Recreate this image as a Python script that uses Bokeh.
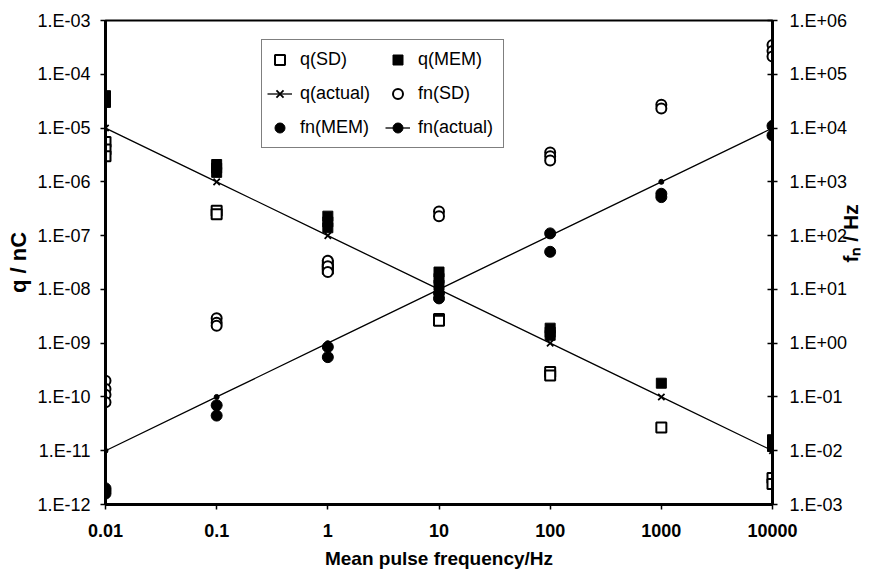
import math
from bokeh.plotting import figure
from bokeh.models import (Range1d, LogScale, LogAxis, FixedTicker, CustomJSTickFormatter, Legend)
from bokeh.embed import file_html
from bokeh.resources import INLINE

# ---- data ----
freq = [0.01, 0.1, 1, 10, 100, 1000, 10000]
freq_labels = ["0.01", "0.1", "1", "10", "100", "1000", "10000"]
q_actual = [1e-5, 1e-6, 1e-7, 1e-8, 1e-9, 1e-10, 1e-11]
fn_actual = [0.01, 0.1, 1, 10, 100, 1000, 10000]

q_sd_f = [0.01, 0.01, 0.01, 0.1, 0.1, 1, 1, 10, 10, 100, 100, 1000, 10000, 10000]
q_sd = [5.5e-6, 4.0e-6, 3.0e-6, 2.9e-7, 2.5e-7, 2.8e-8, 2.4e-8, 2.8e-9, 2.6e-9,
        2.9e-10, 2.5e-10, 2.7e-11, 3.1e-12, 2.4e-12]

q_mem_f = [0.01, 0.01, 0.01, 0.1, 0.1, 0.1, 1, 1, 1, 10, 10, 10, 100, 100, 100,
           1000, 10000, 10000, 10000]
q_mem = [4.0e-5, 3.4e-5, 3.0e-5, 2.1e-6, 1.8e-6, 1.5e-6, 2.3e-7, 1.8e-7, 1.4e-7,
         2.1e-8, 1.6e-8, 1.2e-8, 1.9e-9, 1.6e-9, 1.4e-9, 1.8e-10, 1.6e-11, 1.4e-11, 1.2e-11]

fn_sd_f = [0.01, 0.01, 0.01, 0.01, 0.1, 0.1, 0.1, 1, 1, 1, 10, 10, 100, 100, 100,
           1000, 1000, 10000, 10000, 10000]
fn_sd = [0.2, 0.14, 0.11, 0.08, 2.9, 2.4, 2.1, 34, 27, 21, 280, 230, 3500, 3000, 2500,
         27000, 23000, 350000, 270000, 215000]

fn_mem_f = [0.01, 0.01, 0.01, 0.1, 0.1, 1, 1, 10, 10, 100, 100, 1000, 1000, 10000, 10000]
fn_mem = [0.002, 0.0018, 0.0016, 0.07, 0.045, 0.85, 0.55, 8.5, 6.8, 110, 50, 600, 520,
          11000, 7300]

q_ticks = [1e-12, 1e-11, 1e-10, 1e-9, 1e-8, 1e-7, 1e-6, 1e-5, 1e-4, 1e-3]
fn_ticks = [1e-3, 1e-2, 1e-1, 1, 10, 100, 1e3, 1e4, 1e5, 1e6]

FONT = "Liberation Sans"

p = figure(width=877, height=577, x_axis_type="log", y_axis_type="log",
           x_range=Range1d(0.01, 10000), y_range=Range1d(1e-12, 1e-3),
           output_backend="svg", toolbar_location=None,
           min_border_left=105, min_border_right=105, min_border_top=20, min_border_bottom=73)
p.extra_y_ranges = {"fn": Range1d(1e-3, 1e6)}
p.extra_y_scales = {"fn": LogScale()}
p.xgrid.visible = False
p.ygrid.visible = False
p.outline_line_color = "black"
p.outline_line_width = 2
p.background_fill_color = "white"
p.border_fill_color = "white"

exp_fmt = """
const e = Math.round(Math.log10(tick));
const a = Math.abs(e);
return '1.E' + (e < 0 ? '-' : '+') + (a < 10 ? '0' : '') + a;
"""

xa = p.xaxis[0]
xa.ticker = FixedTicker(ticks=freq, minor_ticks=[])
xa.formatter = CustomJSTickFormatter(args=dict(vals=freq, labels=freq_labels), code="""
let best = 0, bd = 1e9;
for (let i = 0; i < vals.length; i++) {
  const d = Math.abs(Math.log10(vals[i]) - Math.log10(tick));
  if (d < bd) { bd = d; best = i; }
}
return labels[best];
""")
xa.axis_label = "Mean pulse frequency/Hz"

ya = p.yaxis[0]
ya.ticker = FixedTicker(ticks=q_ticks, minor_ticks=[])
ya.formatter = CustomJSTickFormatter(code=exp_fmt)
ya.axis_label = "q / nC"

ra = LogAxis(y_range_name="fn", ticker=FixedTicker(ticks=fn_ticks, minor_ticks=[]),
             formatter=CustomJSTickFormatter(code=exp_fmt), axis_label="fₙ / Hz")
p.add_layout(ra, "right")

for ax in (xa, ya, ra):
    ax.axis_line_color = "black"
    ax.axis_line_width = 3
    ax.major_tick_line_color = "black"
    ax.major_tick_line_width = 1.5
    ax.minor_tick_line_color = None
    ax.major_tick_out = 5
    ax.major_tick_in = 0
    ax.major_label_text_font = FONT
    ax.major_label_text_color = "black"
    ax.axis_label_text_font = FONT
    ax.axis_label_text_font_style = "bold"
    ax.axis_label_text_color = "black"

xa.major_label_text_font_size = "18px"
xa.major_label_text_font_style = "bold"
xa.major_label_standoff = 14
xa.axis_label_text_font_size = "19px"
xa.axis_label_standoff = 8

ya.major_label_text_font_size = "18px"
ya.major_label_standoff = 10
ya.axis_label_text_font_size = "22px"
ya.axis_label_standoff = 3

ra.major_label_text_font_size = "18px"
ra.major_label_standoff = 12
ra.major_tick_in = 5
ra.axis_label_text_font_size = "21px"
ra.axis_label_standoff = 0
ra.axis_label_orientation = math.pi / 2

# ---- glyphs ----
r_qsd = p.scatter(q_sd_f, q_sd, marker="square", size=10, fill_color="white",
                  line_color="black", line_width=2)
r_qmem = p.scatter(q_mem_f, q_mem, marker="square", size=10, fill_color="black",
                   line_color="black")
r_qal = p.line(freq, q_actual, line_color="black", line_width=1.3)
r_qam = p.scatter(freq, q_actual, marker="x", size=9, line_color="black", line_width=1.8)
r_fsd = p.scatter(fn_sd_f, fn_sd, marker="circle", size=10, fill_color="white",
                  line_color="black", line_width=2, y_range_name="fn")
r_fmem = p.scatter(fn_mem_f, fn_mem, marker="circle", size=11, fill_color="black",
                   line_color="black", y_range_name="fn")
r_fal = p.line(freq, fn_actual, line_color="black", line_width=1.3, y_range_name="fn")
r_fam = p.scatter(freq, fn_actual, marker="circle", size=5, fill_color="black",
                  line_color="black", y_range_name="fn")

legend = Legend(items=[
    ("q(SD)", [r_qsd]),
    ("q(MEM)", [r_qmem]),
    ("q(actual)", [r_qal, r_qam]),
    ("fn(SD)", [r_fsd]),
    ("fn(MEM)", [r_fmem]),
    ("fn(actual)", [r_fal, r_fam]),
], location=(156, 356), orientation="horizontal", ncols=2)
legend.label_text_font = FONT
legend.label_text_font_size = "18px"
legend.label_text_color = "black"
legend.border_line_color = "black"
legend.border_line_width = 1.5
legend.background_fill_alpha = 1
legend.padding = 5
legend.spacing = 5
legend.glyph_width = 25
legend.glyph_height = 29
legend.label_height = 29
legend.label_width = 80
legend.label_standoff = 8
legend.margin = 0
p.add_layout(legend, "center")

open("out.html", "w").write(file_html(p, INLINE))
